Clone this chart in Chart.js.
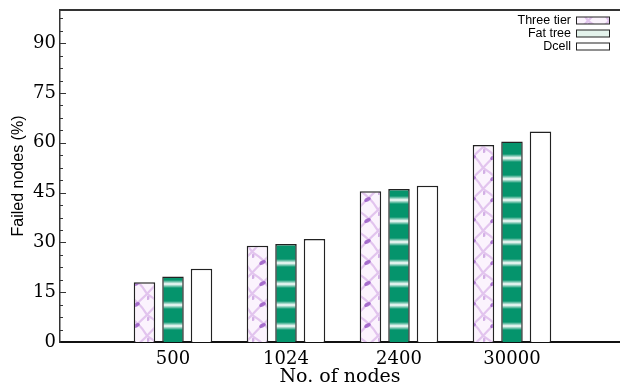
<!DOCTYPE html>
<html>
<head>
<meta charset="utf-8">
<script src="https://cdn.jsdelivr.net/npm/chart.js@4.4.1/dist/chart.umd.min.js"></script>
<style>
  html, body { margin: 0; padding: 0; background: #fff; }
  #wrap { width: 620px; height: 385px; }
</style>
</head>
<body>
<div id="wrap"><canvas id="chart" width="620" height="385"></canvas></div>
<script>
const categories = ['500', '1024', '2400', '30000'];
const threeTier = [18.0, 29.0, 45.4, 59.3];
const fatTree = [19.7, 29.5, 46.1, 60.4];
const dcell = [22.1, 31.0, 47.1, 63.4];
const yLabelTicks = [0, 15, 30, 45, 60, 75, 90];
const seriesNames = ['Three tier', 'Fat tree', 'Dcell'];

// lilac criss-cross fill
function crossPattern() {
    const c = document.createElement('canvas');
    c.width = 21; c.height = 21;
    const g = c.getContext('2d');
    g.fillStyle = '#fbf3fd';
    g.fillRect(0, 0, 21, 21);
    g.strokeStyle = '#e2c4ee';
    g.lineWidth = 2.2;
    g.beginPath();
    g.moveTo(0, 0); g.quadraticCurveTo(14, 8, 21, 21);
    g.moveTo(21, 0); g.quadraticCurveTo(7, 13, 0, 21);
    g.stroke();
    g.fillStyle = 'rgba(140, 70, 190, 0.7)';
    g.beginPath();
    g.ellipse(10.5, 10.5, 3.5, 2, -0.5, 0, Math.PI * 2);
    g.fill();
    g.fillStyle = 'rgba(160, 90, 200, 0.45)';
    g.beginPath();
    g.ellipse(1, 4, 1.5, 2, 0, 0, Math.PI * 2);
    g.fill();
    return g.createPattern(c, 'repeat');
}

// green with soft white stripes
function stripePattern() {
    const c = document.createElement('canvas');
    c.width = 4; c.height = 21;
    const g = c.getContext('2d');
    g.fillStyle = '#05946c';
    g.fillRect(0, 0, 4, 21);
    const grad = g.createLinearGradient(0, 7, 0, 15);
    grad.addColorStop(0, 'rgba(255,255,255,0)');
    grad.addColorStop(0.5, 'rgba(255,255,255,1)');
    grad.addColorStop(1, 'rgba(255,255,255,0)');
    g.fillStyle = grad;
    g.fillRect(0, 7, 4, 8);
    return g.createPattern(c, 'repeat');
}

const fills = [crossPattern(), stripePattern(), '#ffffff'];
const legendFills = [fills[0], '#e4f3ec', '#ffffff'];
const seriesData = [threeTier, fatTree, dcell];

const frame = {
    id: 'frame',
    afterDraw(chart) {
        const ctx = chart.ctx;
        const area = chart.chartArea;
        const y = chart.scales.y;
        ctx.save();
        // top line
        ctx.strokeStyle = '#333';
        ctx.lineWidth = 2;
        ctx.beginPath();
        ctx.moveTo(area.left, area.top);
        ctx.lineTo(chart.width, area.top);
        ctx.stroke();
        // inward ticks
        ctx.lineWidth = 1;
        ctx.beginPath();
        for (let v = 3.75; v < 100; v += 3.75) {
            const py = Math.round(y.getPixelForValue(v)) + 0.5;
            const len = (v % 15 === 0) ? 6 : 3;
            ctx.moveTo(area.left, py);
            ctx.lineTo(area.left + len, py);
        }
        ctx.stroke();
        // legend, swatch on the right
        ctx.font = '12.5px "Liberation Sans", Arial, sans-serif';
        ctx.textAlign = 'right';
        ctx.textBaseline = 'middle';
        for (let i = 0; i < seriesNames.length; i++) {
            const ry = 20.5 + i * 13;
            ctx.fillStyle = '#000';
            ctx.fillText(seriesNames[i], 571, ry);
            ctx.fillStyle = legendFills[i];
            ctx.fillRect(576, ry - 3.5, 33, 7);
            ctx.strokeStyle = '#222';
            ctx.lineWidth = 1;
            ctx.strokeRect(576.5, ry - 3.5, 33, 7);
        }
        ctx.restore();
    }
};

new Chart(document.getElementById('chart'), {
    type: 'bar',
    data: {
        datasets: seriesNames.map((name, k) => ({
            label: name,
            data: categories.map((c, i) => ({ x: i + 1, y: seriesData[k][i] })),
            backgroundColor: fills[k],
            borderColor: '#222',
            borderWidth: 1.5,
            borderSkipped: 'bottom',
            categoryPercentage: 0.757,
            barPercentage: 0.754
        }))
    },
    options: {
        responsive: false,
        animation: false,
        layout: { padding: { top: 10, right: 0, left: 0, bottom: 0 } },
        plugins: {
            legend: { display: false },
            tooltip: { enabled: false }
        },
        scales: {
            x: {
                type: 'linear',
                offset: false,
                min: 0,
                max: 4.956,
                afterBuildTicks: scale => {
                    scale.ticks = categories.map((c, i) => ({ value: i + 1 }));
                },
                afterFit: scale => {
                    scale.height = 43;
                    scale.paddingLeft = 0;
                    scale.paddingRight = 0;
                },
                grid: { display: false, drawTicks: false, offset: false },
                border: { display: true, color: '#111', width: 2 },
                ticks: {
                    padding: 7,
                    color: '#000',
                    font: { family: '"DejaVu Serif", serif', size: 18 },
                    callback: v => categories[v - 1] || ''
                },
                title: {
                    display: true,
                    text: 'No. of nodes',
                    color: '#000',
                    font: { family: '"DejaVu Serif", serif', size: 19 },
                    padding: { top: 0, bottom: -3 }
                }
            },
            y: {
                min: 0,
                max: 100,
                afterBuildTicks: scale => {
                    scale.ticks = yLabelTicks.map(v => ({ value: v }));
                },
                afterFit: scale => {
                    scale.width = 60;
                    scale.paddingTop = 0;
                    scale.paddingBottom = 0;
                },
                grid: { display: false, drawTicks: false },
                border: { display: true, color: '#333', width: 1.5 },
                ticks: {
                    padding: 4,
                    color: '#000',
                    font: { family: '"DejaVu Serif", serif', size: 18 }
                },
                title: {
                    display: true,
                    text: 'Failed nodes (%)',
                    color: '#000',
                    font: { family: '"Liberation Sans", Arial, sans-serif', size: 16 },
                    padding: { top: 9, bottom: 0 }
                }
            }
        }
    },
    plugins: [frame]
});
</script>
</body>
</html>
